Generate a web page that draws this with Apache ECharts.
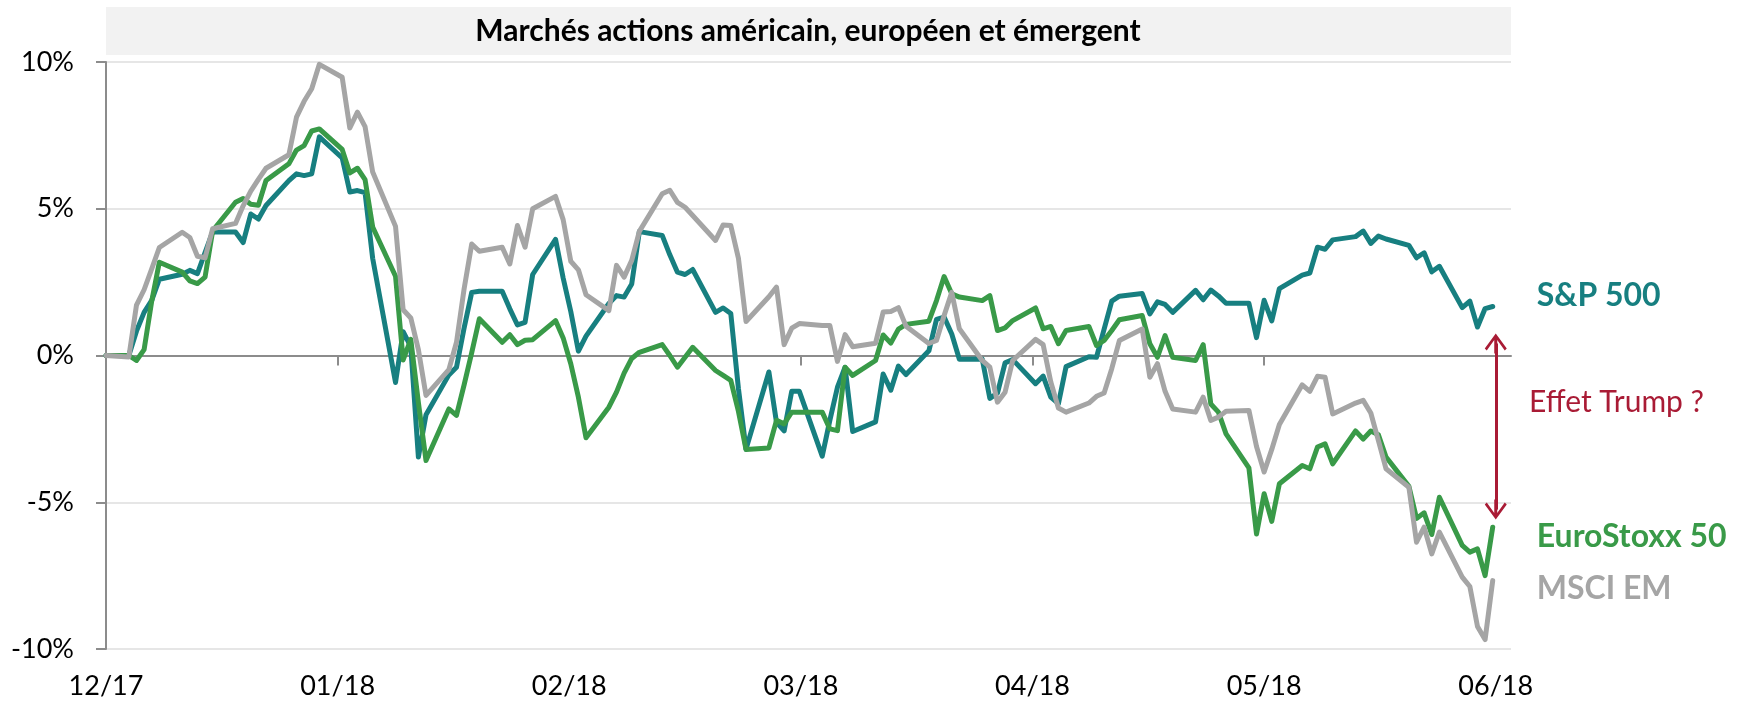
<!DOCTYPE html>
<html>
<head>
<meta charset="utf-8">
<script src="https://cdn.jsdelivr.net/npm/echarts@6/dist/echarts.min.js"></script>
<style>
html, body { margin: 0; padding: 0; background: #fff; }
#chart { width: 1752px; height: 705px; }
</style>
</head>
<body>
<div id="chart"></div>
<script>
// variation depuis le 29/12/2017, en %, un point par jour ouvré
const tickLabels = ['12/17', '01/18', '02/18', '03/18', '04/18', '05/18', '06/18'];
const tickDays = [0, 30.4, 60.8, 91.2, 121.6, 152, 182.4];

const sp500 = [0,
  0, 0.83, 1.47, 1.88, 2.60,
  2.77, 2.90, 2.79, 3.51, 4.21,
  4.21, 3.85, 4.82, 4.65, 5.11,
  5.96, 6.19, 6.13, 6.19, 7.45,
  6.73, 5.57, 5.62, 5.55, 3.31,
  -0.92, 0.81, 0.30, -3.46, -2.02,
  -0.66, -0.40, 0.94, 2.15, 2.19,
  2.19, 1.59, 1.04, 1.13, 2.76,
  3.96, 2.64, 1.50, 0.15, 0.66,
  1.77, 2.04, 1.99, 2.44, 4.22,
  4.09, 3.43, 2.84, 2.76, 2.93,
  1.47, 1.62, 1.43, -1.12, -3.19,
  -0.56, -2.28, -2.57, -1.22, -1.22,
  -3.43, -2.21, -1.08, -0.40, -2.59,
  -2.26, -0.63, -1.18, -0.36, -0.65,
  0.16, 1.23, 1.31, 0.73, -0.13,
  -0.12, -1.46, -1.28, -0.25, -0.14,
  -0.96, -0.70, -1.42, -1.64, -0.38,
  -0.04, -0.06, 0.90, 1.85, 2.02,
  2.11, 1.42, 1.83, 1.74, 1.47,
  2.22, 1.90, 2.23, 2.03, 1.78,
  1.78, 0.61, 1.88, 1.18, 2.28,
  2.74, 2.81, 3.69, 3.62, 3.94,
  4.05, 4.24, 3.82, 4.07, 3.97,
  3.75, 3.33, 3.50, 2.85, 3.04,
  1.63, 1.85, 0.97, 1.60, 1.67];

const euroStoxx = [0,
  0, -0.17, 0.2, 1.85, 3.18,
  2.84, 2.54, 2.45, 2.67, 4.25,
  5.22, 5.35, 5.15, 5.12, 5.96,
  6.53, 7.0, 7.15, 7.65, 7.72,
  7.02, 6.22, 6.38, 5.99, 4.38,
  2.7, -0.15, 0.55, -1.6, -3.58,
  -1.82, -2.04, -1.0, 0.1, 1.25,
  0.45, 0.71, 0.37, 0.52, 0.54,
  1.19, 0.6, -0.28, -1.42, -2.8,
  -1.76, -1.25, -0.6, -0.1, 0.11,
  0.37, 0.0, -0.40, -0.06, 0.28,
  -0.51, -0.68, -0.85, -1.9, -3.2,
  -3.15, -2.21, -2.33, -1.93, -1.93,
  -1.93, -2.5, -2.56, -0.40, -0.68,
  -0.17, 0.7, 0.42, 0.9, 1.06,
  1.17, 1.87, 2.69, 2.10, 1.99,
  1.87, 2.04, 0.85, 0.94, 1.19,
  1.62, 0.91, 0.99, 0.40, 0.85,
  0.99, 0.34, 0.51, 0.85, 1.22,
  1.36, 0.40, -0.06, 0.68, -0.06,
  -0.17, 0.37, -1.65, -1.93, -2.67,
  -3.83, -6.08, -4.71, -5.65, -4.37,
  -3.75, -3.86, -3.12, -3.01, -3.69,
  -2.57, -2.85, -2.57, -2.7, -3.46,
  -4.46, -5.55, -5.36, -6.1, -4.83,
  -6.47, -6.7, -6.59, -7.50, -5.85];

const msciEm = [0,
  -0.05, 1.72, 2.24, 2.95, 3.68,
  4.20, 4.02, 3.38, 3.33, 4.32,
  4.5, 5.1, 5.6, 6.0, 6.38,
  6.84, 8.12, 8.66, 9.09, 9.92,
  9.48, 7.75, 8.29, 7.8, 6.25,
  4.4, 1.56, 1.28, 0.2, -1.36,
  -0.48, 0.45, 2.27, 3.8, 3.55,
  3.69, 3.12, 4.43, 3.69, 5.0,
  5.42, 4.63, 3.21, 2.92, 2.07,
  1.53, 3.07, 2.67, 3.24, 4.23,
  5.51, 5.63, 5.22, 5.05, 4.77,
  3.92, 4.45, 4.43, 3.32, 1.16,
  2.0, 2.33, 0.37, 0.93, 1.09,
  1.02, 1.02, -0.2, 0.71, 0.3,
  0.42, 1.48, 1.5, 1.63, 1.0,
  0.41, 0.51, 1.36, 2.15, 0.91,
  -0.17, -0.40, -1.59, -1.25, -0.17,
  0.55, 0.37, -0.9, -1.79, -1.93,
  -1.62, -1.39, -1.28, -0.45, 0.51,
  0.9, -0.74, -0.28, -1.22, -1.82,
  -1.93, -1.42, -2.21, -2.1, -1.9,
  -1.87, -3.1, -3.97, -3.2, -2.35,
  -1.0, -1.22, -0.71, -0.74, -1.99,
  -1.62, -1.53, -1.96, -2.9, -3.86,
  -4.49, -6.36, -5.85, -6.76, -6.02,
  -7.55, -7.87, -9.23, -9.68, -7.67];

// flèche "Effet Trump ?" (jour, %)
const arrowDay = 182.4;
const arrowTop = 0.41;
const arrowBottom = -5.25;

// jours ouvrés comptés depuis le vendredi 29/12/2017 (les week-ends restent vides)
const days = [];
for (let d = 0; d <= 182; d++) {
  const wd = (5 + d) % 7;
  if (wd !== 6 && wd !== 0) days.push(d);
}

const teal = '#177f80';
const green = '#399a48';
const grey = '#a5a5a5';
const red = '#a91b35';
const axisGrey = '#8c8c8c';
const font = 'Lato, "Noto Sans", sans-serif';
const chevron = 'path://M0,0 L11,15 L9,17 L1.5,6.5 L1.5,20 L-1.5,20 L-1.5,6.5 L-9,17 L-11,15 Z';

function line(name, values, color, offsetY) {
  return {
    name: name,
    type: 'line',
    xAxisIndex: 0,
    data: days.map((d, i) => [d, values[i]]),
    showSymbol: false,
    lineStyle: { color: color, width: 5, join: 'round', cap: 'round' },
    itemStyle: { color: color },
    endLabel: {
      show: true,
      formatter: '{a}',
      color: color,
      fontFamily: font,
      fontSize: 32,
      fontWeight: 'bold',
      distance: 44,
      offset: [0, offsetY]
    }
  };
}

const chart = echarts.init(document.getElementById('chart'));
const spSeries = line('S&P 500', sp500, teal, -11);
spSeries.markLine = {
  silent: true,
  symbol: [chevron, chevron],
  symbolSize: [22, 20],
  lineStyle: { color: red, width: 3, type: 'solid' },
  label: { show: false },
  data: [[{ coord: [arrowDay, arrowTop] }, { coord: [arrowDay, arrowBottom] }]]
};

chart.setOption({
  animation: false,
  textStyle: { fontFamily: font },
  grid: { left: 106, right: 241, top: 62, bottom: 56 },
  xAxis: [
    {
      type: 'value', min: 0, max: 184.4, position: 'bottom',
      axisLine: { show: false, onZero: false },
      axisTick: { show: false },
      splitLine: { show: false },
      axisLabel: {
        customValues: tickDays,
        formatter: v => tickLabels[Math.round(v / 30.4)],
        margin: 24, fontSize: 27, lineHeight: 27, color: '#000', fontFamily: font
      }
    },
    {
      type: 'value', min: 0, max: 184.4, position: 'bottom',
      axisLine: { onZero: true, lineStyle: { color: axisGrey, width: 2 } },
      axisTick: { customValues: tickDays, length: 10, lineStyle: { color: axisGrey, width: 2 } },
      axisLabel: { show: false },
      splitLine: { show: false }
    }
  ],
  yAxis: {
    type: 'value', min: -10, max: 10, interval: 5,
    axisLine: { show: true, onZero: false, lineStyle: { color: axisGrey, width: 2 } },
    axisTick: { show: true, length: 10, lineStyle: { color: axisGrey, width: 2 } },
    axisLabel: { formatter: '{value}%', margin: 32, fontSize: 27, color: '#000', fontFamily: font },
    splitLine: { lineStyle: { color: '#e6e6e6', width: 2 } }
  },
  graphic: [
    { type: 'rect', shape: { x: 106, y: 7, width: 1405, height: 48 }, style: { fill: '#f2f2f2' }, z: -10 },
    { type: 'text', x: 808, y: 31, style: { text: 'Marchés actions américain, européen et émergent', font: 'bold 30px ' + font, fill: '#000', align: 'center', verticalAlign: 'middle' } },
    { type: 'text', x: 1529, y: 402, style: { text: 'Effet Trump ?', font: '30px ' + font, fill: red, align: 'left', verticalAlign: 'middle' } }
  ],
  series: [
    spSeries,
    line('EuroStoxx 50', euroStoxx, green, 9),
    line('MSCI EM', msciEm, grey, 8)
  ]
});
</script>
</body>
</html>
